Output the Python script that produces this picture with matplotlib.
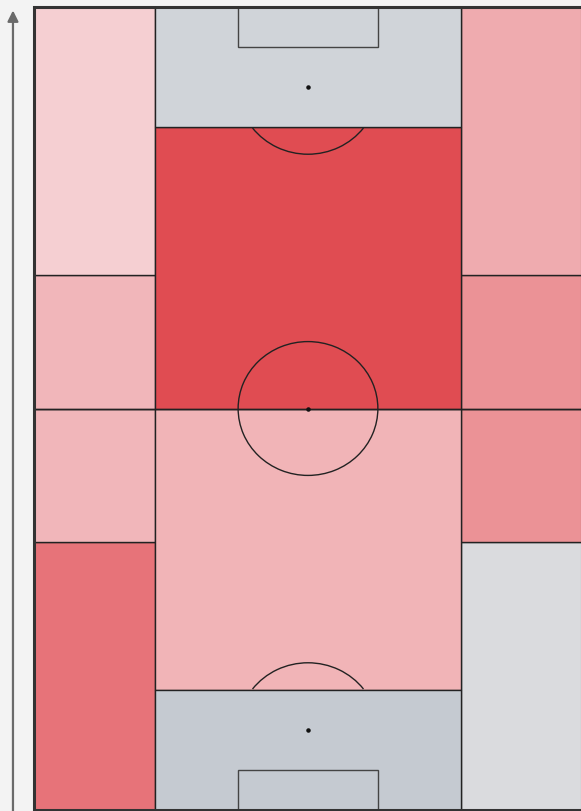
import matplotlib
matplotlib.use('Agg')
import matplotlib.pyplot as plt
from matplotlib.patches import Rectangle, Arc
from matplotlib.colors import LinearSegmentedColormap, Normalize

# pitch zones (StatsBomb 120 x 80, vertical)
side_rows = [0, 40, 60, 80, 120]
centre_rows = [18, 60, 102]
col_edges = [0, 17.7, 62.3, 80]

left_vals = [0.85, 0.61, 0.61, 0.52]
right_vals = [0.0, 0.74, 0.74, 0.65]
centre_vals = [0.62, 0.99]

box_colors = ['#c5cad1', '#d0d4d9']  # bottom, top penalty boxes

cmap = LinearSegmentedColormap.from_list('zona', ['#dadbde', '#f6d5d8', '#e04a50'])
norm = Normalize(0, 1)
linea = '#222222'

fig = plt.figure(figsize=(5.81, 8.11), dpi=100, facecolor='#f3f3f3')
ax = fig.add_axes([0, 0, 1, 1])
ax.set_facecolor('#f3f3f3')
ax.set_xlim(-34 / 6.85, 80 - 1 / 6.85)
ax.set_ylim(-1 / 6.69, 120 + 7 / 6.69)
ax.axis('off')


def strefa(x0, x1, y0, y1, kolor):
    ax.add_patch(Rectangle((x0, y0), x1 - x0, y1 - y0, facecolor=kolor,
                           edgecolor=linea, lw=1, zorder=1))


for i, v in enumerate(left_vals):
    strefa(col_edges[0], col_edges[1], side_rows[i], side_rows[i + 1], cmap(norm(v)))
for i, v in enumerate(right_vals):
    strefa(col_edges[2], col_edges[3], side_rows[i], side_rows[i + 1], cmap(norm(v)))
for i, v in enumerate(centre_vals):
    strefa(col_edges[1], col_edges[2], centre_rows[i], centre_rows[i + 1], cmap(norm(v)))

# penalty boxes
strefa(col_edges[1], col_edges[2], 0, 18, box_colors[0])
strefa(col_edges[1], col_edges[2], 102, 120, box_colors[1])

# markings
r = 10.2
ax.plot([0, 80], [60, 60], color=linea, lw=1, zorder=3)
ax.add_patch(Arc((40, 60), 2 * r, 20, color=linea, lw=1, zorder=3))
ax.add_patch(Rectangle((29.8, 0), 20.4, 6, fill=False, edgecolor='#444', lw=1, zorder=3))
ax.add_patch(Rectangle((29.8, 114), 20.4, 6, fill=False, edgecolor='#444', lw=1, zorder=3))
ax.add_patch(Arc((40, 12), 2 * r, 20, theta1=36.87, theta2=143.13, color=linea, lw=1, zorder=3))
ax.add_patch(Arc((40, 108), 2 * r, 20, theta1=216.87, theta2=323.13, color=linea, lw=1, zorder=3))
for sy in [12, 60, 108]:
    ax.scatter(40, sy, s=5, color='#111', zorder=4)

# outer border
ax.add_patch(Rectangle((0, 0), 80, 120, fill=False, edgecolor='#333', lw=2.2, zorder=5))

# direction of play
ax.annotate('', xy=(-3.07, 119.9), xytext=(-3.07, -2),
            arrowprops=dict(arrowstyle='-|>', color='#6a6a6a', lw=1.6, mutation_scale=16))

plt.savefig('out.png', dpi=100, facecolor=fig.get_facecolor())
